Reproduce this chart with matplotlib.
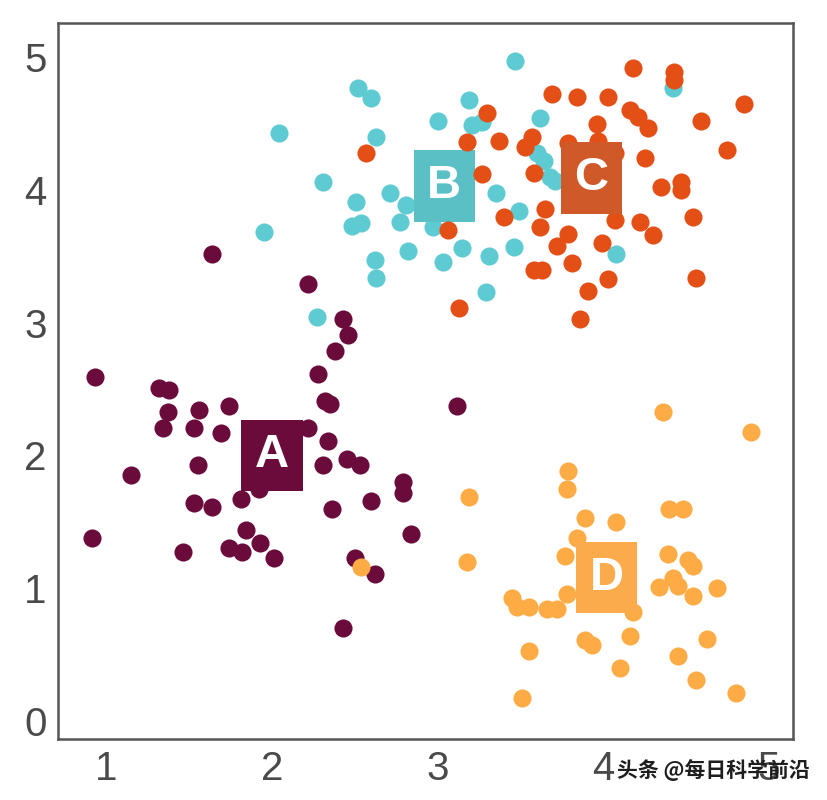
import matplotlib.pyplot as plt

# cluster A (maroon)
a_x = [1.64, 0.93, 1.32, 1.38, 1.37, 1.34, 1.56, 1.53, 1.74, 1.69, 1.15, 1.55,
       1.53, 1.64, 1.81, 1.92, 0.91, 1.46, 1.84, 1.74, 1.82, 1.93, 2.01, 2.22,
       2.43, 2.46, 2.38, 2.28, 2.32, 2.35, 2.22, 2.34, 2.31, 2.45, 2.53, 2.79,
       2.79, 2.60, 2.36, 2.84, 2.50, 2.62, 2.43, 3.12]
a_y = [3.52, 2.59, 2.51, 2.49, 2.33, 2.21, 2.34, 2.21, 2.37, 2.17, 1.85, 1.93,
       1.64, 1.61, 1.67, 1.75, 1.38, 1.27, 1.44, 1.30, 1.27, 1.34, 1.23, 3.29,
       3.03, 2.91, 2.79, 2.61, 2.41, 2.39, 2.21, 2.11, 1.93, 1.97, 1.93, 1.80,
       1.72, 1.66, 1.60, 1.41, 1.23, 1.11, 0.70, 2.37]

# cluster B (cyan)
b_x = [2.52, 2.60, 2.04, 2.63, 3.00, 3.19, 3.21, 3.27, 2.31, 2.71, 2.51, 2.48,
       2.54, 2.81, 2.77, 1.95, 2.97, 3.35, 2.82, 3.03, 3.15, 3.31, 2.62, 2.63,
       3.29, 2.27, 3.47, 4.42, 3.62, 3.60, 3.64, 3.68, 3.71, 3.49, 3.46, 4.08]
b_y = [4.77, 4.69, 4.43, 4.40, 4.52, 4.68, 4.49, 4.51, 4.06, 3.98, 3.91, 3.73,
       3.75, 3.89, 3.76, 3.68, 3.72, 3.98, 3.54, 3.46, 3.56, 3.50, 3.47, 3.34,
       3.23, 3.04, 4.97, 4.77, 4.54, 4.28, 4.22, 4.10, 4.07, 3.84, 3.57, 3.52]

# cluster C (red-orange)
c_x = [2.57, 3.18, 3.30, 3.37, 3.27, 3.40, 3.06, 3.13, 4.18, 4.43, 4.43, 4.85,
       3.69, 3.84, 4.03, 4.16, 4.21, 4.27, 3.96, 4.59, 4.75, 3.57, 3.53, 4.25,
       3.79, 3.97, 4.07, 3.58, 4.35, 4.47, 4.47, 4.54, 3.65, 3.62, 4.07, 4.22,
       4.30, 3.79, 3.72, 3.99, 3.58, 3.63, 3.81, 4.03, 3.91, 4.56, 3.86]
c_y = [4.28, 4.36, 4.58, 4.37, 4.12, 3.80, 3.70, 3.11, 4.92, 4.89, 4.83, 4.65,
       4.72, 4.70, 4.70, 4.60, 4.55, 4.47, 4.50, 4.52, 4.30, 4.40, 4.32, 4.24,
       4.35, 4.37, 4.28, 4.13, 4.02, 4.06, 4.00, 3.80, 3.86, 3.72, 3.77, 3.76,
       3.66, 3.67, 3.58, 3.60, 3.40, 3.40, 3.45, 3.33, 3.24, 3.34, 3.03]

# cluster D (amber)
d_x = [4.36, 4.89, 3.79, 3.78, 3.19, 3.18, 4.40, 4.48, 3.89, 4.08, 3.84, 3.77,
       4.39, 4.51, 4.54, 4.42, 4.34, 4.45, 4.69, 4.54, 3.45, 3.48, 3.55, 3.66,
       3.72, 3.78, 4.18, 4.16, 3.89, 3.93, 4.63, 3.55, 4.45, 4.10, 4.56, 4.80,
       3.51, 2.54]
d_y = [2.33, 2.18, 1.88, 1.75, 1.69, 1.20, 1.60, 1.60, 1.53, 1.50, 1.38, 1.24,
       1.26, 1.21, 1.17, 1.08, 1.01, 1.02, 1.00, 0.94, 0.93, 0.86, 0.86, 0.84,
       0.84, 0.96, 0.82, 0.64, 0.61, 0.57, 0.62, 0.53, 0.49, 0.40, 0.31, 0.21,
       0.17, 1.16]

labels = ["A", "B", "C", "D"]
label_x = [2.00, 3.04, 3.93, 4.02]
label_y = [2.00, 4.03, 4.09, 1.08]

point_colors = ["#6b0b3b", "#5ecbd3", "#e44f16", "#fdab45"]
box_colors = ["#6b0b3b", "#5bbfc6", "#d0592a", "#fbab4b"]

plt.rcParams["font.family"] = ["Liberation Sans", "DejaVu Sans"]

fig = plt.figure(figsize=(8.28, 8.0), dpi=100)
ax = fig.add_axes([0.070, 0.076, 0.888, 0.895])

clusters = [(a_x, a_y), (b_x, b_y), (c_x, c_y), (d_x, d_y)]
for i, (xs, ys) in enumerate(clusters):
    ax.scatter(xs, ys, s=170, color=point_colors[i], linewidths=0, zorder=2 + 2 * i)
    ax.text(label_x[i], label_y[i], labels[i], fontsize=34, fontweight="bold",
            color="white", ha="center", va="center", zorder=3 + 2 * i,
            bbox=dict(boxstyle="square,pad=0.29", fc=box_colors[i], ec="none"))

ax.set_xlim(0.707, 5.148)
ax.set_ylim(-0.137, 5.256)
ax.set_xticks([1, 2, 3, 4, 5])
ax.set_yticks([0, 1, 2, 3, 4, 5])
ax.tick_params(length=0, labelsize=29, labelcolor="#4a4a4a", pad=8)
for side in ax.spines.values():
    side.set_color("#555555")
    side.set_linewidth(1.8)

fig.text(0.745, 0.0375, "头条 @每日科学前沿", fontsize=15, fontweight="bold",
         color="#1e1e1e", va="center", ha="left",
         family=["Noto Sans CJK SC", "DejaVu Sans"])

fig.savefig("out.png", dpi=100)
